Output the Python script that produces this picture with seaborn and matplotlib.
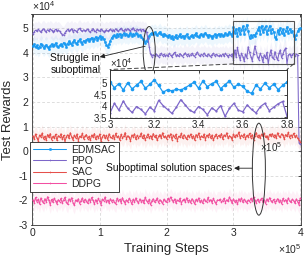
import numpy as np
import pandas as pd
import seaborn as sns
import matplotlib
matplotlib.use("Agg")
import matplotlib.pyplot as plt
from matplotlib.patches import Ellipse, Rectangle, ConnectionPatch
from matplotlib.ticker import FixedLocator, FuncFormatter

# ---------------- data ----------------
steps = list(range(0, 400001, 2000))

edmsac = [
    4.28, 4.35, 4.22, 4.30, 4.18, 4.25, 4.38, 4.30, 4.20, 4.27, 4.33, 4.24, 4.15, 4.29, 4.36, 4.26, 4.31, 4.40, 4.28, 4.22,
    4.30, 4.36, 4.28, 4.42, 4.35, 4.25, 4.38, 4.47, 4.40, 4.33, 4.45, 4.52, 4.41, 4.36, 4.48, 4.55, 4.44, 4.38, 4.50, 4.46,
    4.52, 4.58, 4.47, 4.55, 4.62, 4.50, 4.57, 4.65, 4.54, 4.60, 4.68, 4.58, 4.63, 4.55, 4.45, 4.32, 4.25, 4.35, 4.50, 4.62,
    4.68, 4.72, 4.65, 4.75, 4.70, 4.78, 4.66, 4.73, 4.80, 4.71, 4.76, 4.68, 4.74, 4.82, 4.70, 4.77, 4.72, 4.80, 4.75, 4.70,
    4.72, 4.66, 4.58, 4.50, 4.42, 4.48, 4.60, 4.70, 4.78, 4.82, 4.76, 4.84, 4.78, 4.72, 4.80, 4.86, 4.75, 4.70, 4.78, 4.74,
    4.70, 4.66, 4.74, 4.62, 4.68, 4.58, 4.65, 4.72, 4.60, 4.67, 4.75, 4.64, 4.70, 4.62, 4.69, 4.76, 4.66, 4.60, 4.68, 4.73,
    4.66, 4.74, 4.80, 4.70, 4.64, 4.72, 4.78, 4.68, 4.75, 4.82, 4.72, 4.66, 4.74, 4.68, 4.62, 4.70, 4.76, 4.66, 4.72, 4.78,
    4.70, 4.76, 4.68, 4.74, 4.80, 4.72, 4.78, 4.84, 4.76, 4.70, 5.05, 4.80, 4.98, 4.70, 5.02, 4.75, 4.92, 5.08, 4.78, 4.95,
    5.15, 4.90, 4.60, 4.72, 4.66, 4.74, 4.70, 4.80, 4.92, 5.05, 4.78, 5.10, 4.85, 4.98, 5.08, 4.76, 4.94, 5.10, 4.82, 4.96,
    4.86, 4.65, 4.55, 4.92, 4.75, 5.00, 4.80, 4.96, 4.72, 4.90, 5.05, 4.82, 4.98, 4.85, 4.90, 4.70, 4.58, 4.72, 4.88, 4.98,
    5.00,
]

ppo = [
    4.78, 4.86, 4.92, 4.88, 4.95, 4.90, 4.84, 4.93, 4.98, 4.90, 4.86, 4.94, 4.89, 4.97, 4.92, 4.85, 4.90, 4.96, 4.88, 4.93,
    4.88, 4.80, 4.74, 4.72, 4.82, 4.90, 4.95, 4.88, 4.92, 4.98, 4.86, 4.93, 4.90, 4.85, 4.95, 5.00, 4.91, 4.87, 4.94, 4.89,
    4.92, 4.97, 4.88, 4.84, 4.93, 4.99, 4.90, 4.86, 4.95, 4.91, 4.88, 4.96, 4.92, 4.85, 4.90, 4.94, 4.88, 4.92, 4.97, 4.90,
    4.94, 4.90, 4.98, 4.92, 4.87, 4.95, 5.00, 4.93, 4.88, 4.96, 4.91, 4.99, 4.94, 4.89, 4.97, 5.02, 4.93, 4.90, 4.96, 4.92,
    4.95, 4.90, 4.96, 4.88, 4.92, 4.85, 4.60, 4.25, 3.95, 3.85, 3.92, 3.88, 3.96, 3.90, 3.84, 3.93, 3.98, 3.89, 3.94, 3.87,
    3.92, 3.86, 3.98, 3.90, 3.84, 3.95, 4.02, 3.88, 3.93, 3.86, 3.97, 3.91, 3.85, 3.94, 4.00, 3.89, 3.95, 3.87, 3.92, 3.98,
    3.90, 3.85, 3.96, 4.03, 3.92, 3.87, 3.94, 3.89, 3.99, 3.91, 3.86, 3.95, 3.90, 3.84, 3.93, 3.98, 3.88, 3.94, 3.90, 3.86,
    3.92, 3.88, 3.95, 3.86, 3.98, 3.90, 3.84, 3.93, 3.89, 3.96, 3.70, 4.12, 3.82, 4.22, 3.90, 3.72, 3.98, 3.85, 3.66, 3.95,
    3.80, 4.25, 4.02, 3.85, 3.68, 3.95, 4.28, 4.05, 3.82, 3.72, 3.98, 3.85, 3.62, 3.92, 3.78, 4.02, 3.55, 3.90, 4.12, 3.82,
    3.75, 4.05, 3.85, 3.70, 3.98, 4.12, 3.80, 3.95, 4.10, 4.20, 3.55, 3.90, 3.96, 3.85, 3.92, 3.98, 3.88, 3.94, 3.92, 0.35,
    0.30,
]

sac = [
    0.62, 0.48, 0.70, 0.55, 0.42, 0.66, 0.58, 0.74, 0.50, 0.61, 0.45, 0.68, 0.56, 0.72, 0.47, 0.60, 0.53, 0.69, 0.44, 0.63,
    0.57, 0.71, 0.49, 0.64, 0.38, 0.59, 0.67, 0.52, 0.75, 0.58, 0.46, 0.65, 0.54, 0.70, 0.43, 0.61, 0.56, 0.73, 0.50, 0.62,
    0.68, 0.51, 0.60, 0.44, 0.66, 0.57, 0.72, 0.48, 0.63, 0.55, 0.70, 0.41, 0.59, 0.67, 0.52, 0.64, 0.47, 0.71, 0.58, 0.53,
    0.65, 0.49, 0.73, 0.56, 0.62, 0.45, 0.69, 0.54, 0.60, 0.76, 0.50, 0.63, 0.57, 0.42, 0.66, 0.59, 0.71, 0.48, 0.64, 0.55,
    0.61, 0.74, 0.52, 0.67, 0.46, 0.58, 0.70, 0.55, 0.63, 0.49, 0.72, 0.57, 0.65, 0.44, 0.60, 0.68, 0.53, 0.75, 0.56, 0.62,
    0.50, 0.66, 0.58, 0.71, 0.47, 0.64, 0.55, 0.69, 0.43, 0.61, 0.57, 0.73, 0.52, 0.67, 0.59, 0.48, 0.65, 0.56, 0.70, 0.54,
    0.63, 0.45, 0.68, 0.58, 0.74, 0.51, 0.62, 0.56, 0.70, 0.47, 0.65, 0.59, 0.72, 0.53, 0.66, 0.44, 0.61, 0.69, 0.55, 0.64,
    0.57, 0.72, 0.49, 0.66, 0.60, 0.75, 0.52, 0.63, 0.58, 0.46, 0.70, 0.56, 0.67, 0.62, 0.78, 0.54, 0.65, 0.59, 0.71, 0.50,
    0.64, 0.58, 0.73, 0.55, 0.68, 0.47, 0.62, 0.76, 0.57, 0.66, 0.52, 0.70, 0.60, 0.74, 0.56, 0.63, 0.48, 0.69, 0.61, 0.72,
    0.58, 0.67, 0.53, 0.75, 0.62, 0.56, 0.71, 0.64, 0.49, 0.68, 0.60, 0.77, 0.55, 0.66, 0.59, 0.73, 0.57, 0.65, 0.52, 0.45,
    0.38,
]

ddpg = [
    -1.98, -2.10, -1.88, -2.05, -1.95, -2.15, -1.90, -2.02, -2.12, -1.93, -2.06, -1.85, -2.00, -2.18, -1.96, -2.08, -1.91, -2.03, -2.14, -1.97,
    -2.05, -1.92, -2.11, -1.99, -1.87, -2.07, -2.16, -1.94, -2.02, -1.89, -2.09, -2.20, -1.98, -2.04, -1.93, -2.13, -2.01, -1.90, -2.08, -1.96,
    -2.03, -2.12, -1.94, -2.06, -1.88, -2.00, -2.15, -1.97, -2.09, -1.92, -2.04, -2.17, -1.95, -2.01, -1.86, -2.07, -1.99, -2.11, -1.93, -2.05,
    -1.97, -2.08, -2.14, -1.91, -2.02, -1.96, -2.10, -1.89, -2.04, -2.13, -1.98, -2.06, -1.92, -2.00, -2.16, -1.95, -2.07, -1.90, -2.03, -2.11,
    -1.94, -2.05, -1.99, -2.12, -1.87, -2.01, -2.09, -1.96, -2.18, -2.03, -1.93, -2.07, -2.00, -1.90, -2.10, -1.97, -2.04, -2.14, -1.95, -2.02,
    -2.08, -1.92, -2.01, -1.86, -1.97, -2.06, -1.94, -2.11, -1.99, -2.03, -1.91, -2.13, -2.00, -1.95, -2.07, -1.89, -2.05, -1.98, -2.10, -1.93,
    -2.02, -2.15, -1.96, -2.04, -1.90, -2.08, -1.99, -2.12, -1.94, -2.01, -2.06, -1.88, -2.03, -1.97, -2.10, -1.92, -2.05, -2.14, -1.98, -2.00,
    -1.95, -2.07, -2.01, -1.91, -2.09, -1.97, -2.04, -1.86, -2.00, -2.12, -1.94, -2.06, -1.99, -2.16, -1.93, -2.03, -1.90, -2.08, -1.96, -2.02,
    -2.10, -1.98, -2.05, -1.92, -2.03, -1.87, -1.99, -2.11, -1.95, -2.06, -2.00, -1.91, -2.08, -1.97, -2.13, -1.94, -2.04, -1.89, -2.01, -2.07,
    -1.96, -2.09, -2.02, -1.93, -2.06, -1.99, -2.14, -1.92, -2.04, -1.97, -2.10, -1.90, -2.03, -2.08, -1.95, -2.01, -2.12, -1.94, -2.05, -2.18,
    -1.90,
]

algorithms = ["EDMSAC", "PPO", "SAC", "DDPG"]
series = {"EDMSAC": edmsac, "PPO": ppo, "SAC": sac, "DDPG": ddpg}
spread = {"EDMSAC": 0.35, "PPO": 0.35, "SAC": 0.35, "DDPG": 0.35}   # faint raw-data band half-width

x_ticks = [0, 1, 2, 3, 4]
y_ticks = [-3, -2, -1, 0, 1, 2, 3, 4, 5]
inset_x_ticks = [3.0, 3.2, 3.4, 3.6, 3.8]
inset_y_ticks = [3.5, 4.0, 4.5, 5.0]

# ---------------- style ----------------
sns.set_theme(style="white")
plt.rcParams["font.family"] = ["Liberation Sans", "DejaVu Sans"]
plt.rcParams["mathtext.fontset"] = "custom"
plt.rcParams["mathtext.rm"] = "Liberation Sans"

colors = {"EDMSAC": "#1a9af2", "PPO": "#7d67c9", "SAC": "#e5504b", "DDPG": "#f24fa2"}
markers = {"EDMSAC": "o", "PPO": "+", "SAC": "+", "DDPG": "+"}
msizes = {"EDMSAC": 1.6, "PPO": 1.6, "SAC": 1.6, "DDPG": 1.6}

W, H = 304, 258
fig = plt.figure(figsize=(W / 100, H / 100), dpi=100)
ax = fig.add_axes([31.5 / W, 33 / H, 269.5 / W, 211 / H])

df = pd.DataFrame({
    "Step": np.tile(steps, len(algorithms)),
    "Reward": np.concatenate([series[a] for a in algorithms]),
    "Algorithm": np.repeat(algorithms, len(steps)),
})

for a in algorithms:
    d = df[df["Algorithm"] == a]
    ax.fill_between(d["Step"], d["Reward"] - spread[a], d["Reward"] + spread[a],
                    color=colors[a], alpha=0.08, lw=0, zorder=1)
for a in algorithms:
    d = df[df["Algorithm"] == a]
    sns.lineplot(data=d, x="Step", y="Reward", ax=ax, color=colors[a], lw=0.75,
                 marker=markers[a], markersize=msizes[a], markeredgewidth=0.4,
                 markeredgecolor=colors[a], label=a, zorder=3, errorbar=None)

ax.set_xlim(-2000, 401000)
ax.set_ylim(-3, 5.58)
ax.xaxis.set_major_locator(FixedLocator([t * 1e5 for t in x_ticks]))
ax.xaxis.set_major_formatter(FuncFormatter(lambda v, p: f"{v / 1e5:g}"))
ax.yaxis.set_major_locator(FixedLocator(y_ticks))
ax.yaxis.set_major_formatter(FuncFormatter(lambda v, p: f"{v:g}"))
ax.tick_params(direction="in", length=2.5, width=0.6, labelsize=7.5, colors="#262626",
               top=True, right=True, pad=2.5)
ax.grid(True, ls=(0, (4, 3)), color="#d0d0d0", lw=0.5)
for s in ax.spines.values():
    s.set_color("#333333")
    s.set_linewidth(0.6)
ax.set_xlabel("Training Steps", fontsize=9.5, color="#262626", labelpad=3)
ax.set_ylabel("Test Rewards", fontsize=9.5, color="#262626", labelpad=3)
ax.text(0.0, 1.005, r"$\times10^{4}$", transform=ax.transAxes, ha="left", va="bottom",
        fontsize=7.5, color="#262626")
ax.text(1.0, -0.148, r"$\times10^{5}$", transform=ax.transAxes, ha="right", va="bottom",
        fontsize=7.5, color="#262626")

leg = ax.legend(loc="upper left", bbox_to_anchor=(-0.006, 0.395), fontsize=7.5,
                frameon=True, fancybox=False, edgecolor="#222222", framealpha=1,
                handlelength=3.2, handletextpad=0.5, labelspacing=0.12,
                borderpad=0.3, borderaxespad=0)
leg.get_frame().set_linewidth(0.6)

# zoom rectangle
ax.add_patch(Rectangle((3.0e5, 3.55), 0.9e5, 1.75, fill=False, ec="#555555", lw=0.8, zorder=4))

# ellipses and annotations
ax.add_patch(Ellipse((1.74e5, 4.07), 0.18e5, 2.0, fill=False, ec="#333333", lw=0.7, zorder=5))
ax.add_patch(Ellipse((3.38e5, -0.73), 0.195e5, 3.74, fill=False, ec="#333333", lw=0.7, zorder=5))
ax.annotate("", xy=(1.0e5, 3.83), xytext=(1.68e5, 4.27),
            arrowprops=dict(arrowstyle="-|>", color="#222222", lw=0.6, mutation_scale=7,
                            shrinkA=0, shrinkB=0), zorder=6)
ax.text(0.26e5, 3.55, "Struggle in\nsuboptimal", ha="left", va="center", fontsize=7.5,
        color="#111111", linespacing=1.25, zorder=6)
ax.annotate("", xy=(3.01e5, -0.69), xytext=(3.28e5, -0.69),
            arrowprops=dict(arrowstyle="-|>", color="#222222", lw=0.6, mutation_scale=7,
                            shrinkA=0, shrinkB=0), zorder=6)
ax.text(2.98e5, -0.69, "Suboptimal solution spaces", ha="right", va="center", fontsize=7.5,
        color="#111111", zorder=6)

# ---------------- inset ----------------
axin = fig.add_axes([110 / W, (H - 117.5) / H, 177 / W, 48 / H])
axin.set_facecolor("white")
for a in ["EDMSAC", "PPO"]:
    d = df[(df["Algorithm"] == a) & (df["Step"] >= 3.0e5) & (df["Step"] <= 3.8e5)]
    sns.lineplot(data=d, x="Step", y="Reward", ax=axin, color=colors[a], lw=0.9,
                 marker="o", markersize=2.6 if a == "EDMSAC" else 1.6,
                 markeredgewidth=0, legend=False, errorbar=None)
axin.set_xlim(3.0e5, 3.8e5)
axin.set_ylim(3.5, 5.6)
axin.xaxis.set_major_locator(FixedLocator([t * 1e5 for t in inset_x_ticks]))
axin.xaxis.set_major_formatter(FuncFormatter(lambda v, p: f"{v / 1e5:g}"))
axin.yaxis.set_major_locator(FixedLocator(inset_y_ticks))
axin.yaxis.set_major_formatter(FuncFormatter(lambda v, p: f"{v:g}"))
axin.tick_params(direction="in", length=2, width=0.6, labelsize=7, colors="#262626",
                 top=True, right=True, pad=2)
axin.grid(True, ls=(0, (4, 3)), color="#d0d0d0", lw=0.5)
axin.set_xlabel("")
axin.set_ylabel("")
for s in axin.spines.values():
    s.set_color("#333333")
    s.set_linewidth(0.7)
axin.text(0.0, 1.0, r"$\times10^{4}$", transform=axin.transAxes, ha="left", va="bottom",
          fontsize=7, color="#262626")
axin.text(0.97, -0.47, r"$\times10^{5}$", transform=axin.transAxes, ha="right", va="top",
          fontsize=7, color="#262626")

# dashed connectors
for xa, xb in [(3.0e5, 0.0), (3.9e5, 1.0)]:
    con = ConnectionPatch(xyA=(xa, 3.55), coordsA=ax.transData,
                          xyB=(xb, 1.0), coordsB=axin.transAxes,
                          ls=(0, (4, 3)), color="#444444", lw=0.7)
    fig.add_artist(con)

fig.savefig("out.png", dpi=100)
